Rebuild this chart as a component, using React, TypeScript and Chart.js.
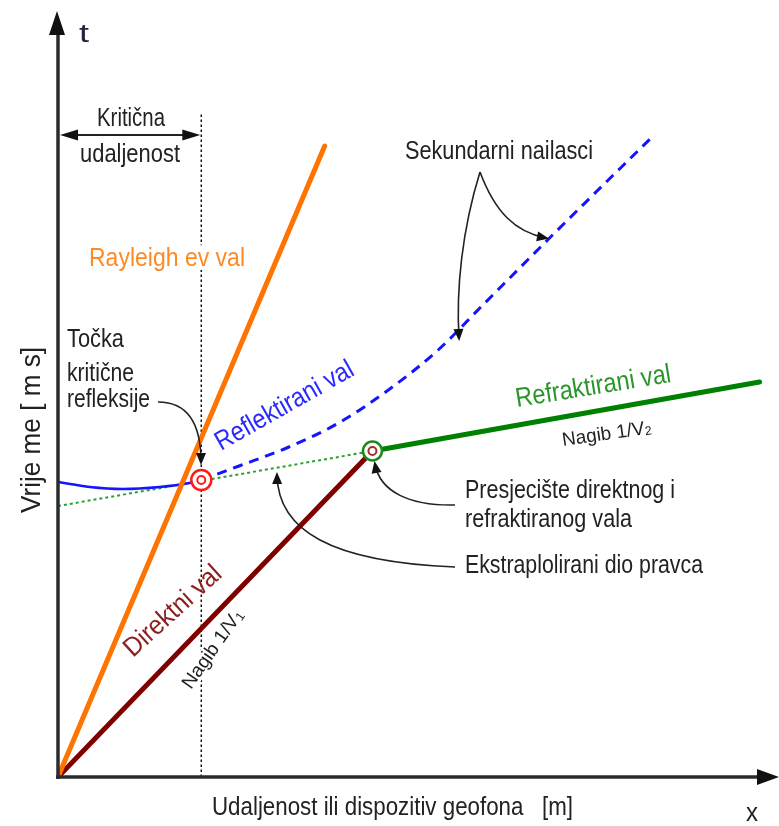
import React, { useEffect, useRef } from "react";
import { Chart, registerables } from "chart.js";

Chart.register(...registerables);

// Schematic travel-time data (x: distance, t: time), arbitrary units
const X_MAX = 712;
const T_MAX = 757;

const rayleighX = [0, 268];
const rayleighT = [0, 631];

const directX = [0, 316];
const directT = [0, 326];

const refractedX = [316, 705];
const refractedT = [326, 395];

const extrapX = [0, 316];
const extrapT = [271, 326];

const reflSolidX = [0, 32, 65, 102, 132, 144];
const reflSolidT = [295, 290, 288, 290, 294, 297];

const reflDashX = [144, 182, 232, 282, 332, 382, 425, 495, 599];
const reflDashT = [297, 311, 330, 354, 387, 427, 470, 540, 642];

const criticalX = [144];
const criticalT = [297];

const crossX = [316];
const crossT = [326];

const critDistX = [144, 144];
const critDistT = [0, 665];

const pts = (xs: number[], ts: number[]) => xs.map((x, i) => ({ x, y: ts[i] }));

const FONT = '"Liberation Sans", Arial, sans-serif';
const DARK = "#222";

type Part = { t: string; s?: number; dy?: number };

function drawLabel(
  ctx: CanvasRenderingContext2D,
  parts: Part[] | string,
  x: number,
  y: number,
  size: number,
  color: string,
  width: number,
  angle = 0,
  bg = false
) {
  const ps: Part[] = typeof parts === "string" ? [{ t: parts }] : parts;
  ctx.save();
  ctx.translate(x, y);
  ctx.rotate((angle * Math.PI) / 180);
  let natural = 0;
  const widths = ps.map((p) => {
    ctx.font = `${size * (p.s ?? 1)}px ${FONT}`;
    const w = ctx.measureText(p.t).width;
    natural += w;
    return w;
  });
  const sx = width / natural;
  ctx.scale(sx, 1);
  if (bg) {
    ctx.fillStyle = "#fff";
    ctx.fillRect(-3 / sx, -size * 0.8, natural + 6 / sx, size * 0.95);
  }
  let cx = 0;
  ps.forEach((p, i) => {
    ctx.font = `${size * (p.s ?? 1)}px ${FONT}`;
    ctx.fillStyle = color;
    ctx.textBaseline = "alphabetic";
    ctx.fillText(p.t, cx, p.dy ?? 0);
    cx += widths[i];
  });
  ctx.restore();
}

function head(ctx: CanvasRenderingContext2D, tx: number, ty: number, ang: number, len: number, hw: number) {
  const dx = Math.cos(ang), dy = Math.sin(ang);
  const bx = tx - dx * len, by = ty - dy * len;
  ctx.beginPath();
  ctx.moveTo(tx, ty);
  ctx.lineTo(bx - dy * hw, by + dx * hw);
  ctx.lineTo(bx + dy * hw, by - dx * hw);
  ctx.closePath();
  ctx.fill();
}

function curveArrow(
  ctx: CanvasRenderingContext2D,
  p0: number[],
  c1: number[],
  c2: number[],
  p3: number[]
) {
  ctx.save();
  ctx.strokeStyle = "#222";
  ctx.fillStyle = "#111";
  ctx.lineWidth = 1.6;
  ctx.beginPath();
  ctx.moveTo(p0[0], p0[1]);
  ctx.bezierCurveTo(c1[0], c1[1], c2[0], c2[1], p3[0], p3[1]);
  ctx.stroke();
  const ang = Math.atan2(p3[1] - c2[1], p3[0] - c2[0]);
  head(ctx, p3[0] + Math.cos(ang) * 3, p3[1] + Math.sin(ang) * 3, ang, 12, 5);
  ctx.restore();
}

const schematic = {
  id: "schematic",
  afterDatasetsDraw(chart: any) {
    const ctx: CanvasRenderingContext2D = chart.ctx;
    const xs = chart.scales.x;
    const ys = chart.scales.y;
    const ox = xs.getPixelForValue(0);
    const oy = ys.getPixelForValue(0);
    ctx.save();

    // axes
    ctx.strokeStyle = "#2b2b2b";
    ctx.fillStyle = "#111";
    ctx.lineWidth = 3.5;
    ctx.beginPath();
    ctx.moveTo(ox, oy + 2);
    ctx.lineTo(ox, 30);
    ctx.stroke();
    head(ctx, ox - 1, 11, -Math.PI / 2, 24, 8);
    ctx.beginPath();
    ctx.moveTo(ox - 2, oy);
    ctx.lineTo(760, oy);
    ctx.stroke();
    head(ctx, 779, oy, 0, 22, 8);

    // critical distance double arrow
    const cdx = xs.getPixelForValue(criticalX[0]);
    ctx.lineWidth = 2;
    ctx.strokeStyle = "#222";
    ctx.beginPath();
    ctx.moveTo(ox + 10, 135);
    ctx.lineTo(cdx - 10, 135);
    ctx.stroke();
    head(ctx, ox + 2, 135, Math.PI, 18, 5.5);
    head(ctx, cdx - 1, 135, 0, 18, 5.5);

    // curved pointer arrows
    curveArrow(ctx, [158, 402], [192, 402], [201, 430], [201, 462]);
    curveArrow(ctx, [455, 505], [410, 506], [380, 492], [375, 464]);
    curveArrow(ctx, [455, 567], [330, 562], [278, 530], [277, 475]);
    curveArrow(ctx, [480, 172], [462, 230], [456, 290], [459, 338]);
    curveArrow(ctx, [480, 172], [495, 212], [515, 232], [546, 238]);

    // texts
    drawLabel(ctx, "t", 79, 42, 25, "#2a1f3f", 10);
    drawLabel(ctx, "Kritična", 97, 126, 25, DARK, 68);
    drawLabel(ctx, "udaljenost", 80, 162, 25, DARK, 100);
    drawLabel(ctx, "Rayleigh ev val", 89, 266, 26, "#ff8a24", 156, 0, true);
    drawLabel(ctx, "Točka", 67, 347, 25, DARK, 57);
    drawLabel(ctx, "kritične", 67, 381, 25, DARK, 67);
    drawLabel(ctx, "refleksije", 67, 407, 25, DARK, 83);
    drawLabel(ctx, "Reflektirani val", 221, 451, 27, "#2a2aff", 155, -29.6);
    drawLabel(ctx, "Refraktirani val", 517, 407, 27, "#2a962a", 157, -9.2);
    drawLabel(ctx, [{ t: "Nagib 1/V" }, { t: "2", s: 0.65, dy: 1 }], 563, 446, 19, DARK, 90, -8.2);
    drawLabel(ctx, "Sekundarni nailasci", 405, 159, 25, DARK, 188);
    drawLabel(ctx, "Presjecište direktnog i", 465, 498, 25, DARK, 210);
    drawLabel(ctx, "refraktiranog vala", 465, 527, 25, DARK, 167);
    drawLabel(ctx, "Ekstraplolirani dio pravca", 465, 573, 25, DARK, 238);
    drawLabel(ctx, "Direktni val", 133, 658, 27, "#8b1f1f", 122, -42.3);
    drawLabel(ctx, [{ t: "Nagib 1/V" }, { t: "1", s: 0.65, dy: 2 }], 191, 690, 19, DARK, 92, -55, true);
    drawLabel(ctx, "Vrije me [ m s]", 40, 513, 27, DARK, 166, -90);
    drawLabel(ctx, "Udaljenost ili dispozitiv geofona   [m]", 212, 815, 25, DARK, 361);
    drawLabel(ctx, "x", 746, 821, 25, DARK, 12);

    ctx.restore();
  },
};

export default function App() {
  const ref = useRef<HTMLCanvasElement | null>(null);
  useEffect(() => {
    if (!ref.current) return;
    const line = (data: any, color: string, width: number, order: number, extra: any = {}) => ({
      data,
      showLine: true,
      borderColor: color,
      borderWidth: width,
      pointRadius: 0,
      fill: false,
      order,
      ...extra,
    });
    const chart = new Chart(ref.current, {
      type: "scatter",
      data: {
        datasets: [
          line(pts(critDistX, critDistT), "#111", 1.5, 10, { borderDash: [2.5, 2.5] }),
          line(pts(extrapX, extrapT), "#2ca02c", 2, 9, { borderDash: [3, 3] }),
          line(pts(reflSolidX, reflSolidT), "#1414ff", 2.5, 8, { cubicInterpolationMode: "monotone" }),
          line(pts(reflDashX, reflDashT), "#1414ff", 3, 7, {
            cubicInterpolationMode: "monotone",
            borderDash: [10, 7],
          }),
          line(pts(directX, directT), "#800000", 5, 6, { borderCapStyle: "round" }),
          line(pts(refractedX, refractedT), "#008000", 5, 5, { borderCapStyle: "round" }),
          line(pts(rayleighX, rayleighT), "#ff7300", 5, 4, { borderCapStyle: "round" }),
          {
            data: pts(criticalX, criticalT),
            pointRadius: 10,
            borderWidth: 2.5,
            borderColor: "#ff1a1a",
            backgroundColor: "#fff",
            order: 2,
          },
          {
            data: pts(criticalX, criticalT),
            pointRadius: 4,
            borderWidth: 2,
            borderColor: "#ff1a1a",
            backgroundColor: "#fff",
            order: 1,
          },
          {
            data: pts(crossX, crossT),
            pointRadius: 9.5,
            borderWidth: 2.5,
            borderColor: "#1a8a1a",
            backgroundColor: "#fff",
            order: 2,
          },
          {
            data: pts(crossX, crossT),
            pointRadius: 4,
            borderWidth: 2,
            borderColor: "#a03030",
            backgroundColor: "#fff",
            order: 1,
          },
        ] as any,
      },
      options: {
        responsive: false,
        maintainAspectRatio: false,
        animation: false,
        devicePixelRatio: 1,
        layout: { padding: { left: 58, right: 9, top: 20, bottom: 49 } },
        scales: {
          x: { type: "linear", min: 0, max: X_MAX, display: false },
          y: { type: "linear", min: 0, max: T_MAX, display: false },
        },
        plugins: { legend: { display: false }, tooltip: { enabled: false } },
        events: [],
      } as any,
      plugins: [schematic],
    });
    return () => chart.destroy();
  }, []);
  return (
    <div style={{ position: "absolute", left: 0, top: 0, width: 779, height: 826, background: "#fff" }}>
      <canvas ref={ref} width={779} height={826} style={{ display: "block" }} />
    </div>
  );
}
